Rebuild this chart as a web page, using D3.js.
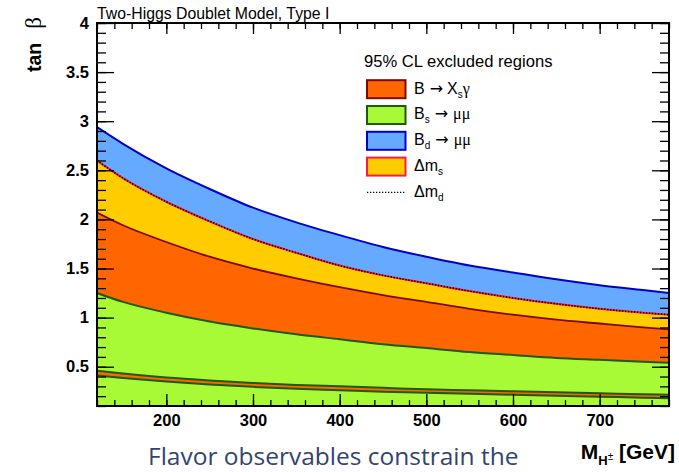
<!DOCTYPE html>
<html>
<head>
<meta charset="utf-8">
<script src="https://cdn.jsdelivr.net/npm/d3@7"></script>
<style>
  html, body { margin: 0; padding: 0; background: #fff; }
  svg { display: block; }
</style>
</head>
<body>
<svg id="chart" width="679" height="472"></svg>
<script>
// Charged Higgs mass grid (GeV)
const massGeV      = [120, 150, 200, 250, 300, 350, 400, 450, 500, 550, 600, 650, 700, 750, 780];
// Upper edges (tan beta) of the 95% CL excluded regions
const bdMuMu       = [2.94, 2.77, 2.52, 2.31, 2.12, 1.97, 1.84, 1.72, 1.62, 1.53, 1.46, 1.39, 1.33, 1.28, 1.25];
const deltaMs      = [2.60, 2.42, 2.18, 1.98, 1.80, 1.66, 1.53, 1.43, 1.35, 1.27, 1.20, 1.14, 1.09, 1.05, 1.03];
const deltaMd      = [2.60, 2.42, 2.18, 1.98, 1.80, 1.66, 1.53, 1.43, 1.35, 1.27, 1.20, 1.14, 1.09, 1.05, 1.03];
const bXsGamma     = [2.07, 1.94, 1.77, 1.62, 1.50, 1.40, 1.31, 1.23, 1.16, 1.09, 1.03, 0.98, 0.94, 0.90, 0.88];
const bsMuMuTop    = [1.25, 1.16, 1.05, 0.96, 0.89, 0.83, 0.78, 0.73, 0.69, 0.65, 0.62, 0.59, 0.57, 0.55, 0.54];
// Narrow B -> Xs gamma strip inside the Bs -> mu mu region
const stripTop     = [0.46, 0.43, 0.39, 0.36, 0.335, 0.315, 0.30, 0.285, 0.27, 0.26, 0.25, 0.24, 0.23, 0.22, 0.215];
const stripBottom  = [0.41, 0.385, 0.35, 0.32, 0.295, 0.275, 0.26, 0.245, 0.235, 0.225, 0.215, 0.205, 0.195, 0.185, 0.18];

const xTickValues = [200, 300, 400, 500, 600, 700];
const yTickValues = [0.5, 1, 1.5, 2, 2.5, 3, 3.5, 4];

const colors = {
  blue: "#66aaff", blueLine: "#0000cc",
  yellow: "#ffcc00", yellowLine: "#ff1a3c",
  orange: "#ff6600", orangeLine: "#7a0a00",
  green: "#a8f936", greenLine: "#1f5a08"
};

const sans = "'Liberation Sans', Arial, Helvetica, sans-serif";
const serif = "'Liberation Serif', 'Times New Roman', serif";
const arrowFont = "'DejaVu Sans', sans-serif";

const svg = d3.select("#chart");
const x = d3.scaleLinear().domain([120, 780]).range([97, 669]);
const y = d3.scaleLinear().domain([0.1, 4]).range([406, 23]);

const rows = massGeV.map((m, i) => ({
  m, bd: bdMuMu[i], dms: deltaMs[i], dmd: deltaMd[i], bsg: bXsGamma[i],
  bsTop: bsMuMuTop[i], sTop: stripTop[i], sBot: stripBottom[i]
}));

svg.append("defs").append("clipPath").attr("id", "plotClip")
  .append("rect").attr("x", 97).attr("y", 23).attr("width", 572).attr("height", 383);

const plot = svg.append("g").attr("clip-path", "url(#plotClip)");
const curve = d3.curveMonotoneX;

function band(top, bottom, fill) {
  const a = d3.area().curve(curve).x(d => x(d.m))
    .y1(d => y(top(d)))
    .y0(d => bottom ? y(bottom(d)) : y(0.1));
  plot.append("path").datum(rows).attr("d", a).attr("fill", fill);
}
function edge(val, stroke, width, dash) {
  const l = d3.line().curve(curve).x(d => x(d.m)).y(d => y(val(d)));
  const p = plot.append("path").datum(rows).attr("d", l)
    .attr("fill", "none").attr("stroke", stroke).attr("stroke-width", width);
  if (dash) p.attr("stroke-dasharray", dash);
}

band(d => d.bd, null, colors.blue);
band(d => d.dms, null, colors.yellow);
band(d => d.bsg, null, colors.orange);
band(d => d.bsTop, d => d.sTop, colors.green);
band(d => d.sBot, null, colors.green);

edge(d => d.bd, colors.blueLine, 2);
edge(d => d.dms, colors.yellowLine, 2);
edge(d => d.dmd, "#000", 1.6, "1.3,1.7");
edge(d => d.bsg, colors.orangeLine, 1.8);
edge(d => d.bsTop, colors.greenLine, 2);
edge(d => d.sTop, colors.greenLine, 2);
edge(d => d.sBot, colors.greenLine, 2);

// Axes with inward ticks on all four sides
const xMinor = d3.range(120, 781, 20);
const yMinor = d3.range(1, 41).map(v => v / 10);

function styleAxis(g) {
  g.select(".domain").remove();
  g.selectAll(".tick line").attr("stroke", "#000").attr("stroke-width", 1.3);
}

svg.append("g").attr("transform", "translate(0,406)")
  .call(d3.axisBottom(x).tickValues(xMinor).tickSize(-6).tickFormat("")).call(styleAxis);
svg.append("g").attr("transform", "translate(0,406)")
  .call(d3.axisBottom(x).tickValues(xTickValues).tickSize(-12).tickPadding(8).tickFormat(d3.format("d")))
  .call(styleAxis)
  .call(g => g.selectAll("text").attr("font-family", sans).attr("font-weight", "bold")
    .attr("font-size", 16.5).attr("fill", "#000"));
svg.append("g").attr("transform", "translate(0,23)")
  .call(d3.axisTop(x).tickValues(xMinor).tickSize(-6).tickFormat("")).call(styleAxis);
svg.append("g").attr("transform", "translate(0,23)")
  .call(d3.axisTop(x).tickValues(xTickValues).tickSize(-11).tickFormat("")).call(styleAxis);

svg.append("g").attr("transform", "translate(97,0)")
  .call(d3.axisLeft(y).tickValues(yMinor).tickSize(-9).tickFormat("")).call(styleAxis);
svg.append("g").attr("transform", "translate(97,0)")
  .call(d3.axisLeft(y).tickValues(yTickValues).tickSize(-17).tickPadding(8).tickFormat(d3.format("")))
  .call(styleAxis)
  .call(g => g.selectAll("text").attr("font-family", sans).attr("font-weight", "bold")
    .attr("font-size", 16.5).attr("fill", "#000"));
svg.append("g").attr("transform", "translate(669,0)")
  .call(d3.axisRight(y).tickValues(yMinor).tickSize(-9).tickFormat("")).call(styleAxis);
svg.append("g").attr("transform", "translate(669,0)")
  .call(d3.axisRight(y).tickValues(yTickValues).tickSize(-17).tickFormat("")).call(styleAxis);

// Frame
svg.append("rect").attr("x", 97).attr("y", 23).attr("width", 572).attr("height", 383)
  .attr("fill", "none").attr("stroke", "#000").attr("stroke-width", 2);

// Title
svg.append("text").attr("x", 97).attr("y", 18.5)
  .attr("font-family", sans).attr("font-size", 15.8).attr("fill", "#000")
  .text("Two-Higgs Doublet Model, Type I");

// Y axis title: "tan" and the Greek beta
svg.append("text").attr("transform", "translate(41,72) rotate(-90)")
  .attr("text-anchor", "start").attr("font-family", sans).attr("font-weight", "bold")
  .attr("font-size", 19.5).attr("fill", "#000").text("tan");
svg.append("text").attr("transform", "translate(41,17) rotate(-90)")
  .attr("text-anchor", "end").attr("font-family", serif)
  .attr("font-size", 23).attr("fill", "#000").text("β");

// X axis title
const xt = svg.append("text").attr("x", 675).attr("y", 458.5).attr("text-anchor", "end")
  .attr("font-family", sans).attr("font-weight", "bold").attr("font-size", 21).attr("fill", "#000");
xt.append("tspan").text("M");
xt.append("tspan").attr("font-size", 13).attr("dy", 6.5).text("H");
xt.append("tspan").attr("font-size", 10).attr("font-weight", "normal").attr("dy", -5).text("±");
xt.append("tspan").attr("dy", -1.5).text(" [GeV]");

// Legend
const legendTitle = "95% CL excluded regions";
svg.append("text").attr("x", 364).attr("y", 67)
  .attr("font-family", sans).attr("font-size", 16.6).attr("fill", "#000").text(legendTitle);

const legendEntries = [
  { fill: colors.orange, stroke: colors.orangeLine, parts: [["B", 0], ["→", 0, arrowFont, 5], ["X", 0, null, 4], ["s", 1], ["γ", 0, serif]] },
  { fill: colors.green, stroke: colors.greenLine, parts: [["B", 0], ["s", 1], ["→", 0, arrowFont, 5], ["μμ", 0, serif, 5]] },
  { fill: colors.blue, stroke: colors.blueLine, parts: [["B", 0], ["d", 1], ["→", 0, arrowFont, 5], ["μμ", 0, serif, 5]] },
  { fill: colors.yellow, stroke: colors.yellowLine, parts: [["Δm", 0], ["s", 1]] },
  { dotted: true, parts: [["Δm", 0], ["d", 1]] }
];

legendEntries.forEach((e, i) => {
  const cy = 89.2 + i * 25.8;
  if (e.dotted) {
    svg.append("line").attr("x1", 367).attr("x2", 405).attr("y1", cy).attr("y2", cy)
      .attr("stroke", "#000").attr("stroke-width", 1.3).attr("stroke-dasharray", "1.3,1.7");
  } else {
    svg.append("rect").attr("x", 367).attr("y", cy - 9).attr("width", 38.5).attr("height", 18)
      .attr("fill", e.fill).attr("stroke", e.stroke).attr("stroke-width", 2);
  }
  const t = svg.append("text").attr("x", 414).attr("y", cy + 4.3)
    .attr("font-family", sans).attr("font-size", 16).attr("fill", "#000");
  let sub = false;
  e.parts.forEach(([s, isSub, fam, gap]) => {
    const ts = t.append("tspan").text(s);
    if (fam) ts.attr("font-family", fam);
    if (gap) ts.attr("dx", gap);
    if (isSub) { ts.attr("font-size", 10).attr("dy", 4); sub = true; }
    else if (sub) { ts.attr("dy", -4); sub = false; }
  });
});

// Caption below the chart
svg.append("text").attr("x", 148).attr("y", 465)
  .attr("font-family", "'Open Sans', sans-serif").attr("font-size", 24.5).attr("fill", "#34446f")
  .text("Flavor observables constrain the");
</script>
</body>
</html>
